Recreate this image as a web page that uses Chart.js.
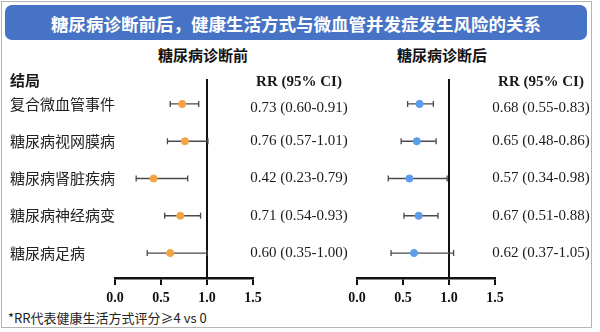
<!DOCTYPE html>
<html>
<head>
<meta charset="utf-8">
<script src="https://cdn.jsdelivr.net/npm/chart.js@4/dist/chart.umd.min.js"></script>
<style>
  body { margin:0; width:600px; height:332px; background:#fff; position:relative; overflow:hidden;
         font-family:"Noto Sans CJK SC", "Noto Sans", sans-serif; }
  .frame { position:absolute; left:1px; top:1px; width:591px; height:327px; box-sizing:border-box; border:1px solid #b4b4b4; }
  .banner { position:absolute; left:5px; top:5px; width:582px; height:35px; background:#4773c6; border-radius:7px;
            color:#fff; font-weight:bold; font-size:17.5px; line-height:37px; text-align:center; }
  .sub { position:absolute; top:44px; width:160px; margin-left:-80px; text-align:center; font-weight:bold; font-size:15px; line-height:22px; color:#111; }
  .note { position:absolute; left:8px; top:308px; font-size:13px; line-height:20px; color:#222; }
  canvas { position:absolute; top:0; }
</style>
</head>
<body>
<div class="frame"></div>
<div class="banner">糖尿病诊断前后，健康生活方式与微血管并发症发生风险的关系</div>
<div class="sub" style="left:203px">糖尿病诊断前</div>
<div class="sub" style="left:442px">糖尿病诊断后</div>
<div class="note">*RR代表健康生活方式评分≥4 vs 0</div>
<canvas id="left" width="350" height="332" style="left:0;width:350px;height:332px"></canvas>
<canvas id="right" width="260" height="332" style="left:340px;width:260px;height:332px"></canvas>
<script>
/* ---------- data ---------- */
const outcomes  = ['复合微血管事件','糖尿病视网膜病','糖尿病肾脏疾病','糖尿病神经病变','糖尿病足病'];
const beforeRR  = [0.73, 0.76, 0.42, 0.71, 0.60];
const beforeLo  = [0.60, 0.57, 0.23, 0.54, 0.35];
const beforeHi  = [0.91, 1.01, 0.79, 0.93, 1.00];
const afterRR   = [0.68, 0.65, 0.57, 0.67, 0.62];
const afterLo   = [0.55, 0.48, 0.34, 0.51, 0.37];
const afterHi   = [0.83, 0.86, 0.98, 0.88, 1.05];
const xTickLabels = ['0.0','0.5','1.0','1.5'];
const rrHeader  = 'RR (95% CI)';
const outcomeHeader = '结局';

const SERIF = '"Liberation Serif", "Times New Roman", serif';
const CJK = '"Noto Sans CJK SC", "Noto Sans", sans-serif';
const fmt = v => v.toFixed(2);

/* whiskers + RR text column, all placed through the chart scales */
const forestPlugin = {
  id: 'forest',
  beforeDatasetsDraw(chart, args, o) {
    const {ctx, scales:{x, y}} = chart;
    ctx.save();
    ctx.strokeStyle = '#4a4a4a';
    ctx.lineWidth = 1.3;
    o.lo.forEach((lo, i) => {
      const yy = y.getPixelForValue(i), x1 = x.getPixelForValue(lo), x2 = x.getPixelForValue(o.hi[i]);
      ctx.beginPath();
      ctx.moveTo(x1, yy); ctx.lineTo(x2, yy);
      ctx.moveTo(x1, yy-3); ctx.lineTo(x1, yy+3);
      ctx.moveTo(x2, yy-3); ctx.lineTo(x2, yy+3);
      ctx.stroke();
    });
    ctx.restore();
  },
  afterDraw(chart, args, o) {
    const {ctx, chartArea, scales:{y}} = chart;
    const cx = chartArea.right + 46;
    ctx.save();
    ctx.fillStyle = '#1a1a1a';
    ctx.textAlign = 'center';
    ctx.textBaseline = 'middle';
    ctx.font = 'bold 15px ' + SERIF;
    ctx.fillText(rrHeader, cx, 82);
    ctx.font = '15px ' + SERIF;
    o.rr.forEach((v, i) => {
      ctx.fillText(`${fmt(v)} (${fmt(o.lo[i])}-${fmt(o.hi[i])})`, cx, y.getPixelForValue(i) + (i === 0 ? 4 : 0));
    });
    if (o.showHeader) {
      ctx.textAlign = 'left';
      ctx.font = 'bold 15px ' + CJK;
      ctx.fillText(outcomeHeader, 10, 80);
    }
    ctx.restore();
  }
};

function makeForest(id, rr, lo, hi, color, showLabels, pad) {
  return new Chart(document.getElementById(id), {
    type: 'scatter',
    data: {
      datasets: [{
        data: rr.map((v, i) => ({x: v, y: i})),
        backgroundColor: color,
        borderColor: color,
        pointRadius: 3.6,
        pointHoverRadius: 3.6
      }]
    },
    options: {
      responsive: false,
      animation: false,
      events: [],
      layout: { padding: pad },
      plugins: {
        legend: { display: false },
        tooltip: { enabled: false },
        forest: { rr, lo, hi, showHeader: showLabels }
      },
      scales: {
        x: {
          type: 'linear', min: 0, max: 1.5,
          afterFit: s => { s.height = 40; },
          border: { color: '#111', width: 2.5 },
          grid: {
            color: c => (c.tick && c.tick.value === 1) ? '#111' : 'rgba(0,0,0,0)',
            lineWidth: 2, tickColor: '#111', tickWidth: 2, tickLength: 7
          },
          ticks: {
            stepSize: 0.5, autoSkip: false, maxRotation: 0, padding: 5, color: '#111',
            font: { family: SERIF, size: 14, weight: 'bold' },
            callback: (v, i) => xTickLabels[i]
          }
        },
        y: {
          type: 'linear', reverse: true, min: -0.67, max: 4.67,
          display: showLabels,
          afterFit: s => { s.width = showLabels ? 105 : 0; },
          border: { display: false },
          grid: { display: false },
          ticks: {
            stepSize: 1, includeBounds: false, autoSkip: false, padding: 0,
            crossAlign: 'far', color: '#222',
            font: { family: CJK, size: 15 },
            callback: v => outcomes[v] ?? ''
          }
        }
      }
    },
    plugins: [forestPlugin]
  });
}

makeForest('left',  beforeRR, beforeLo, beforeHi, '#f5a445', true,  {left: 10, top: 79, right: 97,  bottom: 14});
makeForest('right', afterRR,  afterLo,  afterHi,  '#5b9ceb', false, {left: 17, top: 79, right: 105, bottom: 14});
</script>
</body>
</html>
